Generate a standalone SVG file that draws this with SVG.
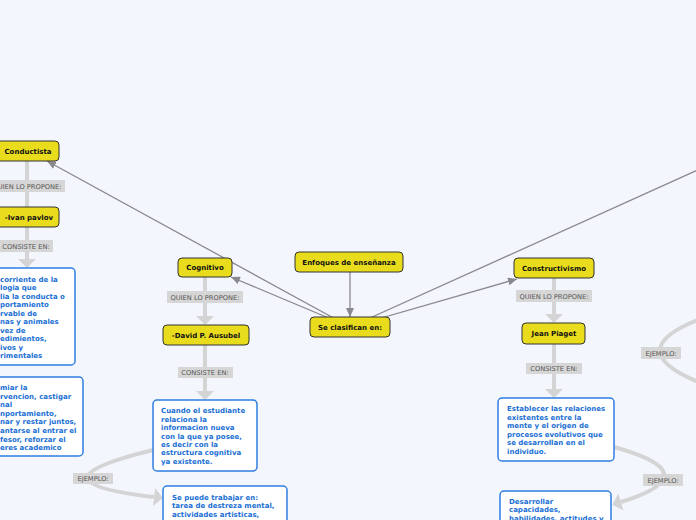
<svg xmlns="http://www.w3.org/2000/svg" width="696" height="520" viewBox="0 0 696 520">
<defs>
<style>
.node rect{fill:#e8dc1c;stroke:#333;stroke-width:1}
.node text{font-family:"DejaVu Sans",Verdana,sans-serif;font-weight:bold;font-size:7px;fill:#111;text-anchor:middle}
.lab rect{fill:#d6d6d6}
.lab text{font-family:"DejaVu Sans",Verdana,sans-serif;font-size:6.7px;fill:#555;text-anchor:middle}
.desc rect{fill:#fff;stroke:#2e7fe0;stroke-width:1.5}
.desc text{font-family:"DejaVu Sans",Verdana,sans-serif;font-weight:bold;font-size:7px;fill:#1a6fd4}
.dark{stroke:#8a8a8e;stroke-width:1.3;fill:none}
.light{stroke:#d4d4d4;stroke-width:4;fill:none}
</style>
<marker id="ad" markerUnits="userSpaceOnUse" markerWidth="10" markerHeight="8" refX="9" refY="4" orient="auto"><path d="M0,0 L9,4 L0,8 z" fill="#8a8a8e"/></marker>
<marker id="al" markerUnits="userSpaceOnUse" markerWidth="10" markerHeight="18" refX="0" refY="9" orient="auto"><path d="M0,0 L9,9 L0,18 z" fill="#d4d4d4"/></marker>
</defs>
<rect width="696" height="520" fill="#f3f6fd"/>
<g id="connectors">
<line class="dark" x1="350" y1="327" x2="47" y2="161" marker-end="url(#ad)"/>
<line class="dark" x1="350" y1="327" x2="231" y2="277" marker-end="url(#ad)"/>
<line class="dark" x1="350" y1="327" x2="517" y2="279" marker-end="url(#ad)"/>
<line class="dark" x1="350" y1="327" x2="720" y2="160"/>
<line class="dark" x1="350" y1="272" x2="350" y2="317" marker-end="url(#ad)"/>
<line class="light" x1="27" y1="161" x2="27" y2="207"/>
<line class="light" x1="27" y1="227" x2="27" y2="259" marker-end="url(#al)"/>
<line class="light" x1="205" y1="277" x2="205" y2="316" marker-end="url(#al)"/>
<line class="light" x1="205" y1="345" x2="205" y2="391" marker-end="url(#al)"/>
<line class="light" x1="554" y1="278" x2="554" y2="314" marker-end="url(#al)"/>
<line class="light" x1="554" y1="344" x2="554" y2="389" marker-end="url(#al)"/>
<path class="light" d="M153,450 Q22,482 154,497" marker-end="url(#al)"/>
<path class="light" d="M614,447 Q711,474 621,502" marker-end="url(#al)"/>
<path class="light" d="M720,312 Q600,350 720,390"/>
</g>
<g id="lab-ej-edge" class="lab"><rect x="641" y="347" width="40" height="12"/><text x="661" y="355.5">EJEMPLO:</text></g>
<g id="n-conductista" class="node"><rect x="-5" y="141" width="64" height="20" rx="4"/><text x="28" y="153.5">Conductista</text></g>
<g id="lab-quien1" class="lab"><rect x="-11" y="180" width="76" height="12"/><text x="27" y="188.5">QUIEN LO PROPONE:</text></g>
<g id="n-pavlov" class="node"><rect x="-5" y="207" width="64" height="20" rx="4"/><text x="29" y="219.5">-Ivan pavlov</text></g>
<g id="lab-consiste1" class="lab"><rect x="-2" y="240" width="55" height="12"/><text x="26" y="248.5">CONSISTE EN:</text></g>
<g id="d-conductista1" class="desc"><rect x="-30" y="268" width="105" height="97" rx="4"/>
<text x="0" y="281.5">corriente de la</text><text x="0" y="290">logia que</text><text x="0" y="298.5">lia la conducta o</text><text x="0" y="307">portamiento</text><text x="0" y="315.5">rvable de</text><text x="0" y="324">nas y animales</text><text x="0" y="332.5">vez de</text><text x="0" y="341">edimientos,</text><text x="0" y="349.5">ivos y</text><text x="0" y="358">rimentales</text></g>
<g id="d-conductista2" class="desc"><rect x="-30" y="377" width="113" height="79" rx="4"/>
<text x="0" y="390">miar la</text><text x="0" y="398.6">rvencion, castigar</text><text x="0" y="407.2">nal</text><text x="0" y="415.8">nportamiento,</text><text x="0" y="424.4">nar y restar juntos,</text><text x="0" y="433">antarse al entrar el</text><text x="0" y="441.6">fesor, reforzar el</text><text x="0" y="450.2">eres academico</text></g>
<g id="n-enfoques" class="node"><rect x="295" y="252" width="108" height="20" rx="4"/><text x="349" y="264.5">Enfoques de enseñanza</text></g>
<g id="n-clasifican" class="node"><rect x="310" y="317" width="80" height="20" rx="4"/><text x="350" y="329.5">Se clasifican en:</text></g>
<g id="n-cognitivo" class="node"><rect x="178" y="258" width="54" height="19" rx="4"/><text x="205" y="270">Cognitivo</text></g>
<g id="lab-quien2" class="lab"><rect x="167" y="291" width="76" height="12"/><text x="205" y="299.5">QUIEN LO PROPONE:</text></g>
<g id="n-ausubel" class="node"><rect x="163" y="325" width="86" height="20" rx="4"/><text x="206" y="337.5">-David P. Ausubel</text></g>
<g id="lab-consiste2" class="lab"><rect x="178" y="367" width="55" height="11"/><text x="205" y="375">CONSISTE EN:</text></g>
<g id="d-cognitivo1" class="desc"><rect x="153" y="400" width="104" height="71" rx="4"/>
<text x="161" y="413.3">Cuando el estudiante</text><text x="161" y="421.7">relaciona la</text><text x="161" y="430.1">informacion nueva</text><text x="161" y="438.5">con la que ya posee,</text><text x="161" y="446.9">es decir con la</text><text x="161" y="455.3">estructura cognitiva</text><text x="161" y="463.7">ya existente.</text></g>
<g id="lab-ej1" class="lab"><rect x="73" y="473" width="40" height="11"/><text x="93" y="481">EJEMPLO:</text></g>
<g id="d-cognitivo2" class="desc"><rect x="163" y="486" width="124" height="50" rx="4"/>
<text x="172" y="499.5">Se puede trabajar en:</text><text x="172" y="508">tarea de destreza mental,</text><text x="172" y="516.5">actividades artisticas,</text></g>
<g id="n-constructivismo" class="node"><rect x="514" y="258" width="80" height="20" rx="4"/><text x="554" y="270.5">Constructivismo</text></g>
<g id="lab-quien3" class="lab"><rect x="516" y="290" width="76" height="12"/><text x="554" y="298.5">QUIEN LO PROPONE:</text></g>
<g id="n-piaget" class="node"><rect x="522" y="323" width="63" height="21" rx="4"/><text x="554" y="336">Jean Piaget</text></g>
<g id="lab-consiste3" class="lab"><rect x="526" y="363" width="56" height="11"/><text x="554" y="371">CONSISTE EN:</text></g>
<g id="d-constructivismo1" class="desc"><rect x="498" y="398" width="116" height="63" rx="4"/>
<text x="507" y="411">Establecer las relaciones</text><text x="507" y="419.6">existentes entre la</text><text x="507" y="428.2">mente y el origen de</text><text x="507" y="436.8">procesos evolutivos que</text><text x="507" y="445.4">se desarrollan en el</text><text x="507" y="454">individuo.</text></g>
<g id="lab-ej2" class="lab"><rect x="643" y="474" width="40" height="12"/><text x="663" y="482.5">EJEMPLO:</text></g>
<g id="d-constructivismo2" class="desc"><rect x="500" y="491" width="111" height="40" rx="4"/>
<text x="509" y="503.5">Desarrollar</text><text x="509" y="512">capacidades,</text><text x="509" y="520.5">habilidades, actitudes y</text></g>
</svg>
